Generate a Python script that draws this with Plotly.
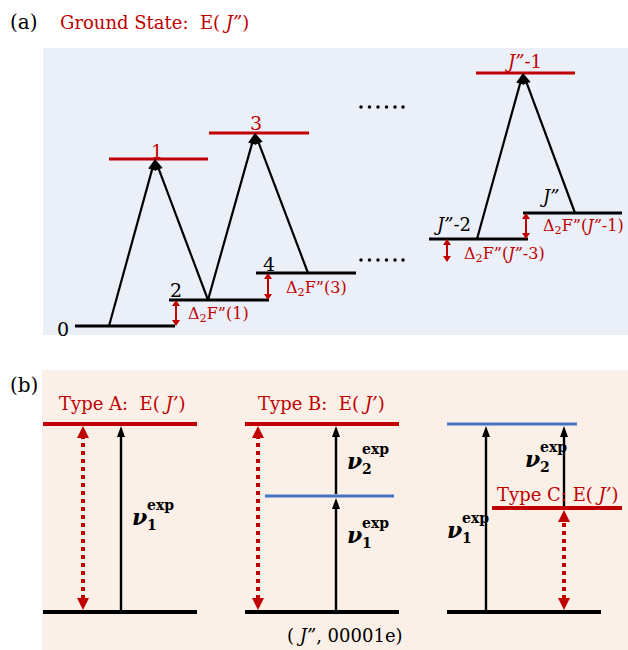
import math
import plotly.graph_objects as go

W, H = 628, 650
RED = "#C00000"
BLUE = "#4472C4"
BLACK = "#000000"
FONT = "DejaVu Serif"
NB = "\u00a0"

# ---------------- (a) ground-state ladder ----------------
gs_labels = ["0", "2", "4", "<i>J”</i>-2", "<i>J”</i>"]
gs_x0 = [75, 169, 256, 429, 523]
gs_x1 = [175, 269, 356, 528, 622]
gs_y = [326, 300, 273, 239, 213]
gs_label_x = [63, 176, 269, 452, 549]
gs_label_y = [329, 290, 264, 224, 196]

up_labels = ["1", "3", "<i>J”</i>-1"]
up_x0 = [109, 209, 476]
up_x1 = [208, 309, 575]
up_y = [159, 133, 73]
up_tip_x = [155, 255, 523]
up_label_x = [157, 256, 523]
up_label_y = [151, 123, 61]

# transitions: lower level index, upper level index, x where they leave the lower level
tr_lower = [0, 1, 1, 2, 3, 4]
tr_upper = [0, 0, 1, 1, 2, 2]
tr_x = [109, 208, 208, 308, 477, 575]

# combination differences Δ2F"
df_labels = ["Δ<sub>2</sub>F”(1)", "Δ<sub>2</sub>F”(3)",
             "Δ<sub>2</sub>F”(<i>J”</i>-3)", "Δ<sub>2</sub>F”(<i>J”</i>-1)"]
df_x = [176, 268, 447, 526]
df_top = [300, 273, 239, 213]
df_bottom = [326, 300, 262, 239]
df_label_x = [186, 284, 462, 541]
df_label_y = [314, 288, 254, 226]

# ellipsis rows
dots_y = [107, 260]
dots_x = [361, 369.5, 378, 386.5, 395, 403]

# ---------------- (b) upper-state determination ----------------
b_ground_x0 = [43, 245, 447]
b_ground_x1 = [197, 399, 601]
b_ground_y = 612
b_upper_x0 = [43, 245, 492]
b_upper_x1 = [197, 399, 622]
b_upper_y = [424, 424, 508]
b_upper_labels = ["Type A:" + NB * 2 + "E(" + NB + "<i>J’</i>)",
                  "Type B:" + NB * 2 + "E(" + NB + "<i>J’</i>)",
                  "Type C:" + NB + "E(" + NB + "<i>J’</i>)"]
b_upper_label_x = [122, 321, 557]
b_upper_label_y = [403, 403, 494]
b_mid_x0 = [265, 447]
b_mid_x1 = [394, 577]
b_mid_y = [496, 424]
dotted_x = [83, 258, 564]

nu_x = [121, 336, 336, 486, 564]
nu_from = [612, 612, 496, 612, 508]
nu_to = [424, 496, 424, 424, 424]
nu_sub = ["1", "1", "2", "1", "2"]
nu_label_x = [130, 345, 345, 445, 523]
nu_label_y = [517, 535, 461, 530, 459]

fig = go.Figure()
shapes = []
ann = []


def hline(x0, x1, y, color, width):
    shapes.append(dict(type="line", xref="x", yref="y", x0=x0, x1=x1, y0=y, y1=y,
                       line=dict(color=color, width=width)))


def text(x, y, s, size, color=BLACK, xanchor="center", yanchor="middle"):
    ann.append(dict(x=x, y=y, xref="x", yref="y", text=s, showarrow=False,
                    xanchor=xanchor, yanchor=yanchor,
                    font=dict(family=FONT, size=size, color=color)))


def head(xt, yt, xf, yf, length, width, color):
    """Filled triangular head with its tip at (xt, yt), pointing away from (xf, yf).
    Returns the centre of the head's base."""
    d = math.hypot(xf - xt, yf - yt)
    ux, uy = (xf - xt) / d, (yf - yt) / d
    bx, by = xt + ux * length, yt + uy * length
    px, py = -uy * width / 2, ux * width / 2
    shapes.append(dict(type="path", xref="x", yref="y",
                       path=f"M{xt},{yt} L{bx + px},{by + py} L{bx - px},{by - py} Z",
                       fillcolor=color, line=dict(width=0)))
    return bx - ux * 1, by - uy * 1


def arrow(x0, y0, x1, y1, color, width, hl, hw, both=False, dash="solid"):
    ex, ey = head(x1, y1, x0, y0, hl, hw, color)
    sx, sy = (head(x0, y0, x1, y1, hl, hw, color) if both else (x0, y0))
    shapes.append(dict(type="line", xref="x", yref="y", x0=sx, y0=sy, x1=ex, y1=ey,
                       line=dict(color=color, width=width, dash=dash)))


# panel backgrounds
shapes.append(dict(type="rect", xref="x", yref="y", x0=43, x1=628, y0=48, y1=335,
                   fillcolor="#EAEFF8", line=dict(width=0), layer="below"))
shapes.append(dict(type="rect", xref="x", yref="y", x0=42, x1=628, y0=370, y1=650,
                   fillcolor="#FBF0E7", line=dict(width=0), layer="below"))

# ----- panel (a)
text(8, 22, "(a)", 20, xanchor="left")
text(58, 22, "Ground State:" + NB * 2 + "E(" + NB + "<i>J”</i>)", 18, RED, xanchor="left")

for x0, x1, y in zip(gs_x0, gs_x1, gs_y):
    hline(x0, x1, y, BLACK, 3)
for s, x, y in zip(gs_labels, gs_label_x, gs_label_y):
    text(x, y, s, 19 if len(s) == 1 else 18)
for x0, x1, y in zip(up_x0, up_x1, up_y):
    hline(x0, x1, y, RED, 3)
for s, x, y in zip(up_labels, up_label_x, up_label_y):
    text(x, y, s, 19 if len(s) == 1 else 18, RED)

for lo, hi, x in zip(tr_lower, tr_upper, tr_x):
    arrow(x, gs_y[lo], up_tip_x[hi], up_y[hi], BLACK, 2.2, 11, 8)

for s, x, y0, y1, lx, ly in zip(df_labels, df_x, df_top, df_bottom, df_label_x, df_label_y):
    arrow(x, y1, x, y0, RED, 2, 6, 8, both=True)
    text(lx, ly, s, 16, RED, xanchor="left")

for y in dots_y:
    fig.add_trace(go.Scatter(x=dots_x, y=[y] * len(dots_x), mode="markers",
                             marker=dict(size=3.5, color=BLACK), hoverinfo="skip"))

# ----- panel (b)
text(8, 385, "(b)", 20, xanchor="left")

for x0, x1 in zip(b_ground_x0, b_ground_x1):
    hline(x0, x1, b_ground_y, BLACK, 4)
for x0, x1, y in zip(b_mid_x0, b_mid_x1, b_mid_y):
    hline(x0, x1, y, BLUE, 3)
for x0, x1, y in zip(b_upper_x0, b_upper_x1, b_upper_y):
    hline(x0, x1, y, RED, 4)
for s, x, y in zip(b_upper_labels, b_upper_label_x, b_upper_label_y):
    text(x, y, s, 18, RED)

# dotted double arrows: upper level down to the (J", 00001e) level
for x, yt in zip(dotted_x, b_upper_y):
    arrow(x, b_ground_y - 2, x, yt + 2, RED, 4, 12, 12, both=True, dash="4px,4px")

for x, y0, y1 in zip(nu_x, nu_from, nu_to):
    arrow(x, y0 - 2, x, y1 + 2, BLACK, 2.4, 11, 8)
for x, y, sub in zip(nu_label_x, nu_label_y, nu_sub):
    text(x, y, "<b><i>ν</i></b>", 22, xanchor="left")
    text(x + 15, y - 12, "<b>exp</b>", 14, xanchor="left")
    text(x + 15, y + 8, "<b>" + sub + "</b>", 14, xanchor="left")

text(345, 635, "(" + NB + "<i>J”</i>, 00001e)", 18)

fig.update_layout(
    width=W, height=H, margin=dict(l=0, r=0, t=0, b=0),
    paper_bgcolor="white", plot_bgcolor="white", showlegend=False,
    shapes=shapes, annotations=ann,
    xaxis=dict(range=[0, W], visible=False, fixedrange=True),
    yaxis=dict(range=[H, 0], visible=False, fixedrange=True),
)
fig.write_html("out.html")
